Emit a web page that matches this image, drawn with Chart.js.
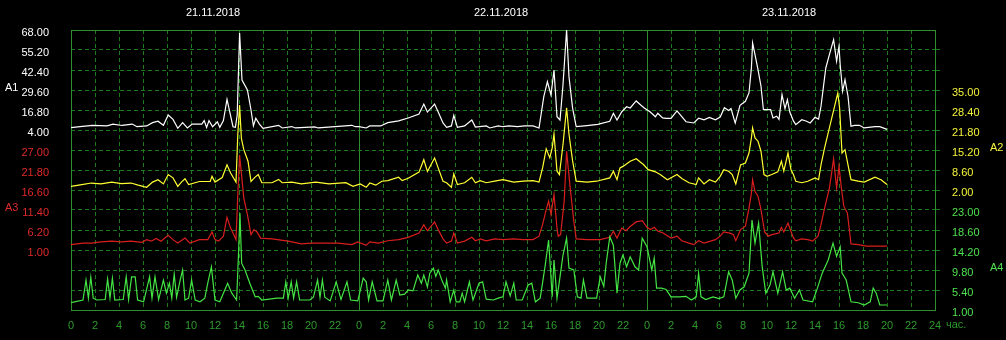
<!DOCTYPE html>
<html>
<head>
<meta charset="utf-8">
<script src="https://cdn.jsdelivr.net/npm/chart.js@4.4.1/dist/chart.umd.min.js"></script>
<style>
  html, body { margin: 0; padding: 0; background: #000; }
  canvas { display: block; }
</style>
</head>
<body>
<canvas id="chart" width="1006" height="340"></canvas>
<script>
const DAYS = ['21.11.2018', '22.11.2018', '23.11.2018'];
const HOURS_MAX = 72;
const ROWS = 14; // grid rows, 0 = bottom line

// value-axis tick labels, top to bottom, and the grid row of the first one
const A1_TICKS = [68.00, 55.20, 42.40, 29.60, 16.80, 4.00];
const A2_TICKS = [35.00, 28.40, 21.80, 15.20, 8.60, 2.00];
const A3_TICKS = [27.00, 21.80, 16.60, 11.40, 6.20, 1.00];
const A4_TICKS = [23.00, 18.60, 14.20, 9.80, 5.40, 1.00];
const A1_ROW = 14, A2_ROW = 11, A3_ROW = 8, A4_ROW = 5;

// A1 (white)
const a1Hours = [0, 0.75, 1.8, 3.0, 3.5, 4.25, 5.1, 5.5, 6.3, 6.8, 7.25, 7.7, 8.1, 8.5, 8.9, 9.3, 9.7, 10.1, 10.9, 11.1,
  11.3, 11.5, 11.8, 12.2, 12.4, 12.7, 13.0, 13.5, 13.7, 13.85, 14.05, 14.25, 14.7, 15.0, 15.2, 15.4, 15.7, 16.0, 17.3, 17.6,
  18.4, 18.7, 20.3, 20.6, 23.4, 23.7, 24.0, 24.6, 24.9, 25.8, 26.4, 27.3, 28.1, 29.0, 29.4, 29.7, 30.3, 30.6, 31.0, 31.3,
  31.7, 31.9, 32.2, 32.8, 33.4, 33.7, 34.6, 34.9, 35.6, 36.0, 36.5, 37.2, 37.8, 38.5, 39.0, 39.4, 39.7, 40.0, 40.25, 40.5,
  40.75, 41.0, 41.3, 41.5, 41.8, 42.1, 43.0, 43.9, 44.9, 45.2, 45.5, 45.9, 46.3, 46.6, 47.1, 47.5, 47.8, 48.25, 48.7, 48.9,
  49.3, 49.6, 50.0, 50.5, 50.9, 51.25, 51.9, 52.3, 52.75, 53.2, 53.7, 54.1, 54.45, 54.8, 55.0, 55.35, 55.75, 56.2, 56.5, 56.7,
  56.8, 57.0, 57.25, 57.5, 57.7, 58.0, 58.3, 58.5, 58.8, 59.0, 59.25, 59.5, 59.7, 59.9, 60.2, 60.4, 60.9, 61.3, 61.6, 62.0,
  62.3, 62.5, 62.9, 63.2, 63.55, 63.8, 64.0, 64.1, 64.3, 64.5, 64.75, 65.0, 65.3, 65.7, 66.1, 67.0, 67.4, 68.0];
const a1Values = [5.5, 6.1, 7.0, 6.6, 7.8, 6.9, 7.8, 6.1, 6.6, 8.7, 9.6, 7.0, 13.6, 10.8, 5.1, 8.7, 5.3, 7.8, 7.8, 10.0,
  5.7, 10.0, 6.1, 9.3, 5.7, 10.0, 23.6, 6.1, 5.7, 13.6, 66.1, 36.0, 29.6, 16.8, 6.6, 11.5, 7.8, 5.1, 7.0, 5.3,
  6.2, 5.3, 6.0, 5.3, 7.0, 6.1, 6.1, 5.3, 6.6, 6.6, 8.7, 9.8, 11.7, 14.2, 20.6, 15.5, 20.6, 15.5, 8.5, 5.7,
  6.6, 13.4, 5.7, 6.6, 10.4, 5.9, 6.6, 5.3, 6.6, 6.1, 6.6, 6.2, 6.6, 6.6, 5.3, 25.3, 34.9, 26.4, 42.4, 12.5,
  10.4, 33.0, 68.0, 38.0, 18.0, 6.1, 6.8, 7.6, 9.6, 14.7, 10.4, 15.7, 18.9, 18.1, 22.6, 19.8, 17.9, 15.7, 12.5, 14.7,
  11.7, 11.5, 11.5, 16.2, 12.5, 9.3, 8.5, 11.5, 10.5, 12.0, 10.5, 12.3, 18.3, 16.5, 17.7, 8.4, 19.8, 22.4, 27.7, 43.7,
  59.7, 52.2, 42.6, 32.0, 17.0, 17.0, 17.0, 11.7, 12.8, 10.8, 26.6, 17.7, 23.4, 15.5, 9.8, 7.4, 10.6, 9.6, 8.5, 12.1,
  11.0, 19.2, 43.7, 52.2, 61.8, 48.0, 57.6, 45.8, 28.8, 36.2, 25.6, 6.4, 7.0, 7.0, 5.3, 6.1, 6.1, 4.4];

// A2 (yellow)
const a2Hours = [0, 0.9, 1.7, 2.5, 3.4, 4.2, 5.0, 5.6, 6.3, 6.8, 7.25, 7.7, 8.1, 8.5, 8.9, 9.2, 9.5, 9.8, 10.7, 11.6,
  11.75, 12.0, 12.6, 13.0, 13.3, 13.75, 13.9, 14.05, 14.2, 14.4, 14.75, 15.0, 15.3, 15.6, 15.9, 16.75, 17.3, 17.6, 18.4, 19.2,
  20.4, 21.5, 22.9, 23.5, 24.1, 24.6, 24.9, 25.4, 25.9, 26.4, 27.3, 27.6, 28.1, 29.0, 29.4, 29.7, 30.3, 30.6, 31.0, 31.3,
  31.7, 31.9, 32.2, 32.8, 33.4, 33.7, 34.1, 34.6, 35.3, 36.0, 36.9, 37.7, 38.5, 39.0, 39.3, 39.6, 39.9, 40.1, 40.25, 40.5,
  40.7, 41.0, 41.3, 41.5, 41.8, 42.1, 43.0, 43.8, 44.9, 45.2, 45.5, 45.75, 46.0, 46.6, 47.1, 47.7, 48.1, 48.7, 49.1, 49.7,
  50.5, 50.9, 51.5, 52.1, 52.3, 52.75, 53.2, 53.7, 54.1, 54.4, 54.8, 55.1, 55.4, 55.8, 56.2, 56.5, 56.7, 56.8, 57.0, 57.25,
  57.5, 57.75, 58.0, 58.4, 58.9, 59.2, 59.4, 59.75, 60.0, 60.2, 60.4, 60.9, 61.4, 62.0, 62.3, 62.5, 62.8, 63.2, 63.6, 63.9,
  64.05, 64.25, 64.5, 64.75, 65.0, 65.6, 66.1, 67.0, 67.5, 68.0];
const a2Values = [3.2, 3.8, 4.3, 4.0, 4.6, 4.1, 4.3, 3.6, 2.9, 4.6, 5.4, 4.0, 7.1, 6.0, 3.2, 4.6, 5.7, 3.8, 4.8, 4.8,
  6.5, 4.6, 6.1, 10.3, 7.6, 4.6, 20.3, 30.0, 19.0, 15.3, 11.5, 4.8, 6.1, 7.1, 4.4, 4.4, 5.5, 4.4, 4.6, 4.0,
  4.6, 4.0, 4.4, 3.2, 4.0, 2.9, 4.3, 3.6, 4.9, 5.1, 6.2, 5.1, 5.9, 7.9, 12.0, 8.1, 12.6, 9.3, 4.9, 4.4,
  2.9, 7.3, 3.8, 4.4, 6.2, 4.4, 5.1, 4.4, 4.9, 5.4, 4.6, 4.9, 5.1, 4.6, 9.3, 15.6, 12.6, 15.9, 20.5, 8.2,
  7.1, 17.0, 29.1, 20.4, 11.6, 4.9, 4.6, 4.9, 6.0, 8.2, 5.4, 9.3, 9.8, 11.5, 12.3, 10.4, 8.7, 8.0, 7.1, 5.4,
  7.1, 5.8, 4.4, 3.8, 6.0, 4.0, 5.4, 4.6, 6.5, 8.7, 8.2, 7.1, 4.0, 10.3, 10.9, 14.2, 19.2, 22.5, 19.2, 18.1,
  14.8, 7.1, 6.5, 7.1, 8.0, 11.5, 8.2, 14.2, 8.7, 7.1, 4.9, 4.4, 4.9, 6.0, 5.4, 10.3, 15.9, 22.5, 29.1, 34.0,
  29.1, 14.2, 15.3, 10.3, 5.4, 4.9, 4.6, 6.2, 5.4, 3.8];

// A3 (red)
const a3Hours = [0, 1.0, 1.7, 2.5, 3.4, 4.2, 5.0, 5.9, 6.3, 6.7, 7.1, 7.5, 8.1, 8.5, 8.9, 9.5, 9.9, 10.7, 11.4, 11.75,
  12.0, 12.3, 12.7, 13.0, 13.3, 13.5, 13.75, 13.9, 14.05, 14.2, 14.4, 14.7, 15.0, 15.25, 15.5, 15.8, 16.75, 18.1, 19.2, 20.0,
  21.5, 22.25, 23.4, 23.9, 24.6, 24.9, 25.6, 26.4, 27.3, 28.1, 29.0, 29.4, 29.7, 30.3, 30.6, 31.0, 31.3, 31.7, 31.9, 32.2,
  32.8, 33.4, 33.7, 34.1, 34.6, 35.3, 36.0, 36.9, 37.7, 38.5, 39.0, 39.3, 39.6, 39.8, 40.0, 40.25, 40.5, 40.6, 40.8, 41.1,
  41.3, 41.6, 41.9, 42.1, 43.0, 44.1, 44.9, 45.2, 45.5, 45.9, 46.25, 46.6, 47.1, 47.6, 48.0, 48.3, 48.6, 48.9, 49.3, 50.0,
  50.5, 50.9, 51.5, 51.9, 52.3, 52.75, 53.3, 53.7, 54.1, 54.4, 54.9, 55.2, 55.4, 55.8, 56.2, 56.5, 56.7, 56.8, 57.0, 57.25,
  57.5, 57.8, 58.1, 58.4, 59.0, 59.2, 59.4, 59.75, 60.0, 60.2, 60.4, 60.9, 61.4, 61.8, 62.25, 62.5, 62.8, 63.2, 63.55, 63.8,
  64.0, 64.2, 64.4, 64.7, 65.0, 65.6, 66.3, 67.0, 68.0];
const a3Values = [2.4, 2.8, 2.8, 3.1, 3.3, 3.1, 3.3, 3.0, 3.7, 3.3, 4.0, 3.3, 4.8, 3.7, 2.8, 4.1, 2.8, 3.7, 3.7, 5.7,
  3.7, 3.3, 4.6, 9.5, 6.7, 5.4, 3.7, 15.4, 25.7, 21.0, 14.5, 10.2, 5.0, 6.3, 5.7, 4.1, 3.9, 3.3, 2.6, 2.8,
  2.8, 2.8, 2.4, 3.1, 2.2, 3.1, 2.8, 3.4, 3.7, 4.3, 5.4, 7.6, 6.0, 8.3, 6.3, 3.9, 2.8, 3.3, 5.4, 2.8,
  3.3, 4.3, 3.4, 3.9, 3.4, 3.9, 3.7, 3.9, 3.7, 3.7, 4.6, 7.6, 11.5, 13.7, 10.2, 15.4, 6.7, 4.6, 5.0, 13.7,
  26.7, 17.1, 8.5, 3.9, 3.7, 3.7, 4.3, 5.9, 4.1, 6.7, 6.0, 7.1, 8.3, 8.6, 6.9, 6.3, 6.9, 5.9, 5.5, 4.1,
  4.6, 3.4, 2.8, 2.4, 3.4, 2.8, 3.3, 3.7, 4.6, 5.7, 5.4, 5.0, 3.4, 6.3, 7.2, 11.9, 15.8, 19.3, 16.2, 15.0,
  11.5, 5.7, 4.6, 5.0, 5.4, 6.9, 5.7, 8.0, 5.8, 4.2, 3.4, 3.9, 3.7, 3.3, 4.6, 7.6, 11.9, 17.1, 24.7, 17.1,
  22.8, 17.1, 12.4, 10.6, 2.6, 2.4, 2.0, 2.0, 2.0];

// A4 (green)
const a4Hours = [0, 1.0, 1.25, 1.45, 1.65, 1.85, 2.15, 2.85, 3.05, 3.25, 3.45, 3.65, 4.35, 4.6, 4.8, 5.05, 5.35, 5.55, 6.05, 6.55,
  6.75, 7.0, 7.3, 7.7, 7.95, 8.2, 8.4, 8.6, 8.8, 9.1, 9.3, 9.5, 9.8, 10.05, 10.35, 10.75, 11.15, 11.45, 11.7, 12.0,
  12.4, 12.7, 13.05, 13.4, 13.8, 13.95, 14.08, 14.22, 14.5, 14.9, 15.35, 15.6, 15.9, 17.15, 17.7, 17.9, 18.1, 18.35, 18.55, 18.8,
  19.05, 19.9, 20.2, 20.55, 20.75, 20.95, 21.15, 21.6, 22.1, 22.5, 23.0, 23.3, 23.9, 24.35, 24.6, 24.8, 25.1, 25.5, 26.0, 26.4,
  26.7, 27.1, 27.4, 27.8, 28.1, 28.5, 28.9, 29.2, 29.4, 29.7, 29.9, 30.2, 30.4, 30.6, 30.9, 31.2, 31.3, 31.6, 31.9, 32.1,
  32.4, 32.6, 32.8, 33.2, 33.5, 34.0, 34.3, 34.6, 35.2, 35.6, 36.0, 36.25, 36.6, 36.9, 37.1, 37.6, 38.1, 38.4, 38.7, 39.1,
  39.5, 39.8, 40.1, 40.25, 40.5, 40.75, 41.0, 41.3, 41.5, 41.9, 42.2, 42.5, 42.7, 43.0, 43.8, 44.1, 44.4, 44.6, 44.9, 45.2,
  45.5, 45.75, 46.0, 46.3, 46.6, 47.0, 47.3, 47.6, 48.0, 48.4, 48.6, 48.8, 49.2, 49.6, 50.0, 50.7, 51.25, 51.7, 52.1, 52.3,
  52.5, 52.9, 53.5, 54.0, 54.4, 54.8, 55.1, 55.4, 55.75, 56.1, 56.5, 56.75, 57.0, 57.3, 57.6, 57.9, 58.25, 58.5, 58.9, 59.3,
  59.6, 59.9, 60.3, 60.7, 61.0, 61.8, 62.2, 62.6, 63.1, 63.5, 63.8, 64.1, 64.25, 64.6, 65.0, 65.6, 66.1, 66.6, 66.85, 67.1,
  67.4, 68.0];
const a4Values = [2.6, 3.2, 7.6, 3.6, 8.2, 3.6, 3.2, 3.3, 7.8, 3.6, 8.0, 3.2, 3.3, 8.3, 3.3, 8.3, 8.3, 3.2, 2.8, 8.3,
  3.6, 8.3, 3.3, 7.6, 4.7, 6.9, 3.6, 8.9, 3.8, 7.6, 9.8, 3.2, 3.6, 7.6, 3.2, 2.8, 3.6, 7.6, 10.5, 3.2,
  2.8, 4.7, 6.9, 4.7, 3.2, 12.7, 22.3, 11.3, 9.8, 6.9, 3.9, 4.0, 3.2, 3.6, 3.6, 7.2, 3.6, 7.2, 3.6, 7.2,
  3.2, 3.2, 3.8, 7.6, 3.8, 7.6, 3.8, 3.0, 7.2, 3.3, 7.2, 3.2, 3.0, 8.0, 7.2, 3.2, 7.2, 3.0, 3.0, 7.6,
  3.2, 7.6, 4.3, 4.5, 5.4, 5.2, 8.7, 6.9, 8.7, 6.1, 9.1, 10.2, 8.4, 9.8, 7.6, 5.8, 7.6, 2.8, 5.4, 2.8,
  2.8, 4.7, 2.8, 7.2, 3.2, 6.9, 7.2, 3.4, 3.2, 3.6, 3.9, 7.2, 4.1, 6.9, 3.2, 3.2, 6.5, 6.9, 2.8, 3.6,
  10.5, 16.4, 3.9, 12.0, 3.6, 8.3, 13.1, 16.8, 10.2, 9.8, 3.9, 3.6, 7.6, 3.6, 3.6, 8.3, 6.2, 11.3, 17.1, 15.2,
  4.7, 11.3, 13.1, 10.5, 12.7, 10.5, 9.8, 16.8, 14.9, 9.8, 12.4, 5.8, 5.8, 5.5, 3.9, 3.9, 4.0, 3.2, 3.9, 9.1,
  3.9, 3.3, 3.9, 3.5, 3.9, 9.4, 7.6, 3.6, 5.4, 6.1, 9.1, 20.8, 15.7, 20.1, 10.5, 4.7, 6.5, 9.4, 4.7, 9.4,
  5.4, 5.8, 3.6, 5.4, 3.2, 2.8, 5.8, 9.1, 12.0, 15.7, 12.8, 14.9, 9.1, 7.6, 2.8, 2.6, 2.1, 2.8, 5.8, 4.7,
  2.1, 2.1];

const GRID = '#1f7a1f';
const FRAME = '#2f8f2f';
const AXIS_TEXT = '#2e9a2e';
const WHITE = '#ffffff', YELLOW = '#ffff33', RED = '#d81e1e', GREEN = '#44e444';
const RED_TEXT = '#e02a2a', YELLOW_TEXT = '#f4f43c', GREEN_TEXT = '#4fe04f';

Chart.defaults.font.family = '"Liberation Sans", Arial, sans-serif';
Chart.defaults.font.size = 11;

function points(hours, values) {
  return hours.map((h, i) => ({ x: h, y: values[i] }));
}

// each series gets its own hidden scale so its ticks land on the shared grid rows
function rangeFor(ticks, topRow) {
  const step = ticks[0] - ticks[1];
  const max = ticks[0] + (ROWS - topRow) * step;
  return { min: max - ROWS * step, max: max };
}

function hiddenAxis(ticks, topRow) {
  const r = rangeFor(ticks, topRow);
  return { type: 'linear', display: false, min: r.min, max: r.max };
}

function rowLabel(row, ticks, topRow) {
  const i = topRow - row;
  return (i >= 0 && i < ticks.length) ? ticks[i].toFixed(2) : null;
}

function line(label, hours, values, color, axis) {
  return {
    label: label,
    data: points(hours, values),
    yAxisID: axis,
    borderColor: color,
    borderWidth: 1.2,
    pointRadius: 0,
    tension: 0,
    fill: false
  };
}

const textPlugin = {
  id: 'sideText',
  afterDraw(chart) {
    const c = chart.ctx;
    c.save();
    c.font = '11px "Liberation Sans", Arial, sans-serif';
    c.textBaseline = 'middle';
    c.textAlign = 'left';
    c.fillStyle = WHITE; c.fillText('A1', 5, 88);
    c.fillStyle = RED_TEXT; c.fillText('A3', 5, 208);
    c.fillStyle = YELLOW_TEXT; c.fillText('A2', 990, 148);
    c.fillStyle = GREEN_TEXT; c.fillText('A4', 990, 268);
    c.fillStyle = AXIS_TEXT; c.fillText('час.', 946, 325);
    c.restore();
  }
};

new Chart(document.getElementById('chart'), {
  type: 'line',
  data: {
    datasets: [
      line('A4', a4Hours, a4Values, GREEN, 'y4'),
      line('A3', a3Hours, a3Values, RED, 'y3'),
      line('A2', a2Hours, a2Values, YELLOW, 'y2'),
      line('A1', a1Hours, a1Values, WHITE, 'y1')
    ]
  },
  options: {
    responsive: false,
    animation: false,
    devicePixelRatio: 1,
    layout: { padding: 0 },
    plugins: { legend: { display: false }, tooltip: { enabled: false } },
    scales: {
      x: {
        type: 'linear', position: 'bottom', min: 0, max: HOURS_MAX,
        afterFit: s => { s.height = 30; },
        ticks: {
          stepSize: 2, autoSkip: false, maxRotation: 0, padding: 9, color: AXIS_TEXT,
          callback: v => v === HOURS_MAX ? '24' : String(v % 24)
        },
        grid: {
          drawTicks: false,
          color: c => (c.tick && c.tick.value % 24 !== 0) ? GRID : 'transparent'
        },
        border: { color: FRAME, dash: [4, 3] }
      },
      xTop: {
        type: 'linear', position: 'top', min: 0, max: HOURS_MAX,
        afterFit: s => { s.height = 30; },
        afterBuildTicks: s => { s.ticks = [0, 12, 24, 36, 48, 60, 72].map(v => ({ value: v })); },
        ticks: {
          autoSkip: false, maxRotation: 0, padding: 10, color: WHITE, labelOffset: -2,
          callback: v => (v % 24 === 12) ? DAYS[(v - 12) / 24] : ''
        },
        grid: {
          drawTicks: false,
          color: c => (c.tick && (c.tick.value === 24 || c.tick.value === 48)) ? FRAME : 'transparent'
        },
        border: { color: FRAME }
      },
      yL: {
        type: 'linear', position: 'left', min: 0, max: ROWS,
        afterFit: s => { s.width = 71; },
        ticks: {
          stepSize: 1, autoSkip: false, padding: 14, labelOffset: 3,
          color: c => (c.tick && c.tick.value > A3_ROW) ? WHITE : RED_TEXT,
          callback: v => rowLabel(v, A1_TICKS, A1_ROW) || rowLabel(v, A3_TICKS, A3_ROW) || ''
        },
        grid: { display: false },
        border: { color: FRAME }
      },
      yR: {
        type: 'linear', position: 'right', min: 0, max: ROWS,
        afterFit: s => { s.width = 71; },
        ticks: {
          stepSize: 1, autoSkip: false, padding: 11, labelOffset: 3,
          color: c => (c.tick && c.tick.value > A4_ROW) ? YELLOW_TEXT : GREEN_TEXT,
          callback: v => rowLabel(v, A2_TICKS, A2_ROW) || rowLabel(v, A4_TICKS, A4_ROW) || ''
        },
        grid: {
          drawTicks: true, tickLength: 6, tickBorderDash: [4, 3],
          color: c => (c.tick && c.tick.value > 0 && c.tick.value < ROWS) ? GRID : 'transparent',
          tickColor: c => (c.tick && c.tick.value > 0 && c.tick.value < ROWS) ? GRID : 'transparent'
        },
        border: { color: FRAME, dash: [4, 3] }
      },
      y1: hiddenAxis(A1_TICKS, A1_ROW),
      y2: hiddenAxis(A2_TICKS, A2_ROW),
      y3: hiddenAxis(A3_TICKS, A3_ROW),
      y4: hiddenAxis(A4_TICKS, A4_ROW)
    }
  },
  plugins: [textPlugin]
});
</script>
</body>
</html>
